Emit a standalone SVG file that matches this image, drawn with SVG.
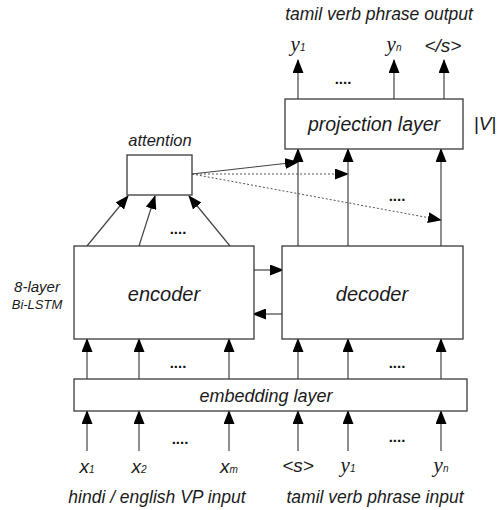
<svg xmlns="http://www.w3.org/2000/svg" width="499" height="510" viewBox="0 0 499 510">
  <style>
    .box { fill: #ffffff; stroke: #3a3a3a; stroke-width: 1.3; }
    .lbl { font-family: "Liberation Sans", Arial, sans-serif; font-style: italic; fill: #1a1a1a; text-anchor: middle; }
    .math { font-family: "Liberation Serif", "DejaVu Serif", serif; font-style: italic; fill: #1a1a1a; text-anchor: middle; }
    .sub { font-family: "Liberation Sans", Arial, sans-serif; font-style: italic; font-size: 10px; }
    .dots { font-family: "Liberation Sans", Arial, sans-serif; font-weight: bold; font-size: 15px; fill: #111; text-anchor: middle; }
    .edge { stroke: #444; stroke-width: 1.2; fill: none; marker-end: url(#arrow); }
    .dash { stroke: #555; stroke-width: 1; stroke-dasharray: 2 2; fill: none; marker-end: url(#arrow); }
  </style>
  <defs>
    <marker id="arrow" markerUnits="userSpaceOnUse" markerWidth="14" markerHeight="11" viewBox="0 0 14 11" refX="13" refY="5.5" orient="auto">
      <path d="M0,0 L14,5.5 L0,11 Z" fill="#000"/>
    </marker>
  </defs>

  <rect width="499" height="510" fill="#ffffff"/>

  <!-- titles -->
  <text class="lbl" x="379" y="20" font-size="17.5">tamil verb phrase output</text>
  <text class="lbl" x="157" y="503" font-size="17.5">hindi / english VP input</text>
  <text class="lbl" x="375" y="503" font-size="17.5">tamil verb phrase input</text>
  <text class="lbl" x="37" y="292" font-size="15">8-layer</text>
  <text class="lbl" x="37" y="309" font-size="13" font-style="normal">Bi-LSTM</text>
  <text class="lbl" x="485" y="130" font-size="19" font-style="normal">|V|</text>

  <!-- connectors -->
  <g id="connectors">
    <!-- inputs into embedding layer -->
    <line class="edge" x1="87" y1="451" x2="87" y2="411"/>
    <line class="edge" x1="139" y1="451" x2="139" y2="411"/>
    <line class="edge" x1="229" y1="451" x2="229" y2="411"/>
    <line class="edge" x1="298" y1="451" x2="298" y2="411"/>
    <line class="edge" x1="348" y1="451" x2="348" y2="411"/>
    <line class="edge" x1="441" y1="451" x2="441" y2="411"/>
    <!-- embedding into encoder / decoder -->
    <line class="edge" x1="87" y1="379" x2="87" y2="339"/>
    <line class="edge" x1="139" y1="379" x2="139" y2="339"/>
    <line class="edge" x1="229" y1="379" x2="229" y2="339"/>
    <line class="edge" x1="298" y1="379" x2="298" y2="339"/>
    <line class="edge" x1="348" y1="379" x2="348" y2="339"/>
    <line class="edge" x1="441" y1="379" x2="441" y2="339"/>
    <!-- encoder <-> decoder -->
    <line class="edge" x1="254" y1="270" x2="283" y2="270"/>
    <line class="edge" x1="282" y1="314" x2="253" y2="314"/>
    <!-- encoder into attention -->
    <line class="edge" x1="87" y1="246" x2="128" y2="196"/>
    <line class="edge" x1="139" y1="246" x2="155" y2="196"/>
    <line class="edge" x1="230" y1="246" x2="189" y2="196"/>
    <!-- attention context to decoder steps -->
    <line class="edge" x1="192" y1="174" x2="298" y2="162"/>
    <line class="dash" x1="192" y1="174" x2="348" y2="174"/>
    <line class="dash" x1="192" y1="174" x2="441" y2="220"/>
    <!-- decoder into projection layer -->
    <line class="edge" x1="298" y1="246" x2="298" y2="149"/>
    <line class="edge" x1="348" y1="246" x2="348" y2="149"/>
    <line class="edge" x1="441" y1="246" x2="441" y2="149"/>
    <!-- projection outputs -->
    <line class="edge" x1="298" y1="99" x2="298" y2="60"/>
    <line class="edge" x1="394" y1="99" x2="394" y2="60"/>
    <line class="edge" x1="444" y1="99" x2="444" y2="60"/>
  </g>

  <!-- ellipses between repeated steps -->
  <text class="dots" x="343" y="84">....</text>
  <text class="dots" x="178" y="234">....</text>
  <text class="dots" x="397" y="201">....</text>
  <text class="dots" x="178" y="368">....</text>
  <text class="dots" x="397" y="368">....</text>
  <text class="dots" x="180" y="444">....</text>
  <text class="dots" x="397" y="442">....</text>

  <g id="projection">
    <rect class="box" x="285" y="99" width="178" height="50"/>
    <text class="lbl" x="374" y="131" font-size="19.5">projection layer</text>
  </g>

  <g id="attention">
    <rect class="box" x="127" y="155" width="65" height="40"/>
    <text class="lbl" x="160" y="146" font-size="16.5">attention</text>
  </g>

  <g id="encoder">
    <rect class="box" x="74" y="246" width="180" height="93"/>
    <text class="lbl" x="164" y="301" font-size="20">encoder</text>
  </g>

  <g id="decoder">
    <rect class="box" x="282" y="246" width="181" height="93"/>
    <text class="lbl" x="372" y="301" font-size="20">decoder</text>
  </g>

  <g id="embedding">
    <rect class="box" x="74" y="379" width="393" height="32"/>
    <text class="lbl" x="266" y="402" font-size="18">embedding layer</text>
  </g>

  <!-- output tokens -->
  <g id="outputs">
    <text class="math" x="298" y="51" font-size="21">y<tspan class="sub">1</tspan></text>
    <text class="math" x="394" y="51" font-size="21">y<tspan class="sub">n</tspan></text>
    <text class="lbl" x="443" y="52" font-size="19" font-style="normal">&lt;/s&gt;</text>
  </g>

  <!-- input tokens -->
  <g id="inputs">
    <text class="lbl" x="87" y="473" font-size="19">x<tspan class="sub" font-size="11">1</tspan></text>
    <text class="lbl" x="139" y="473" font-size="19">x<tspan class="sub" font-size="11">2</tspan></text>
    <text class="lbl" x="229" y="473" font-size="19">x<tspan class="sub" font-size="11">m</tspan></text>
    <text class="lbl" x="298" y="472" font-size="19" font-style="normal">&lt;s&gt;</text>
    <text class="math" x="348" y="472" font-size="21">y<tspan class="sub">1</tspan></text>
    <text class="math" x="441" y="472" font-size="21">y<tspan class="sub">n</tspan></text>
  </g>
</svg>
